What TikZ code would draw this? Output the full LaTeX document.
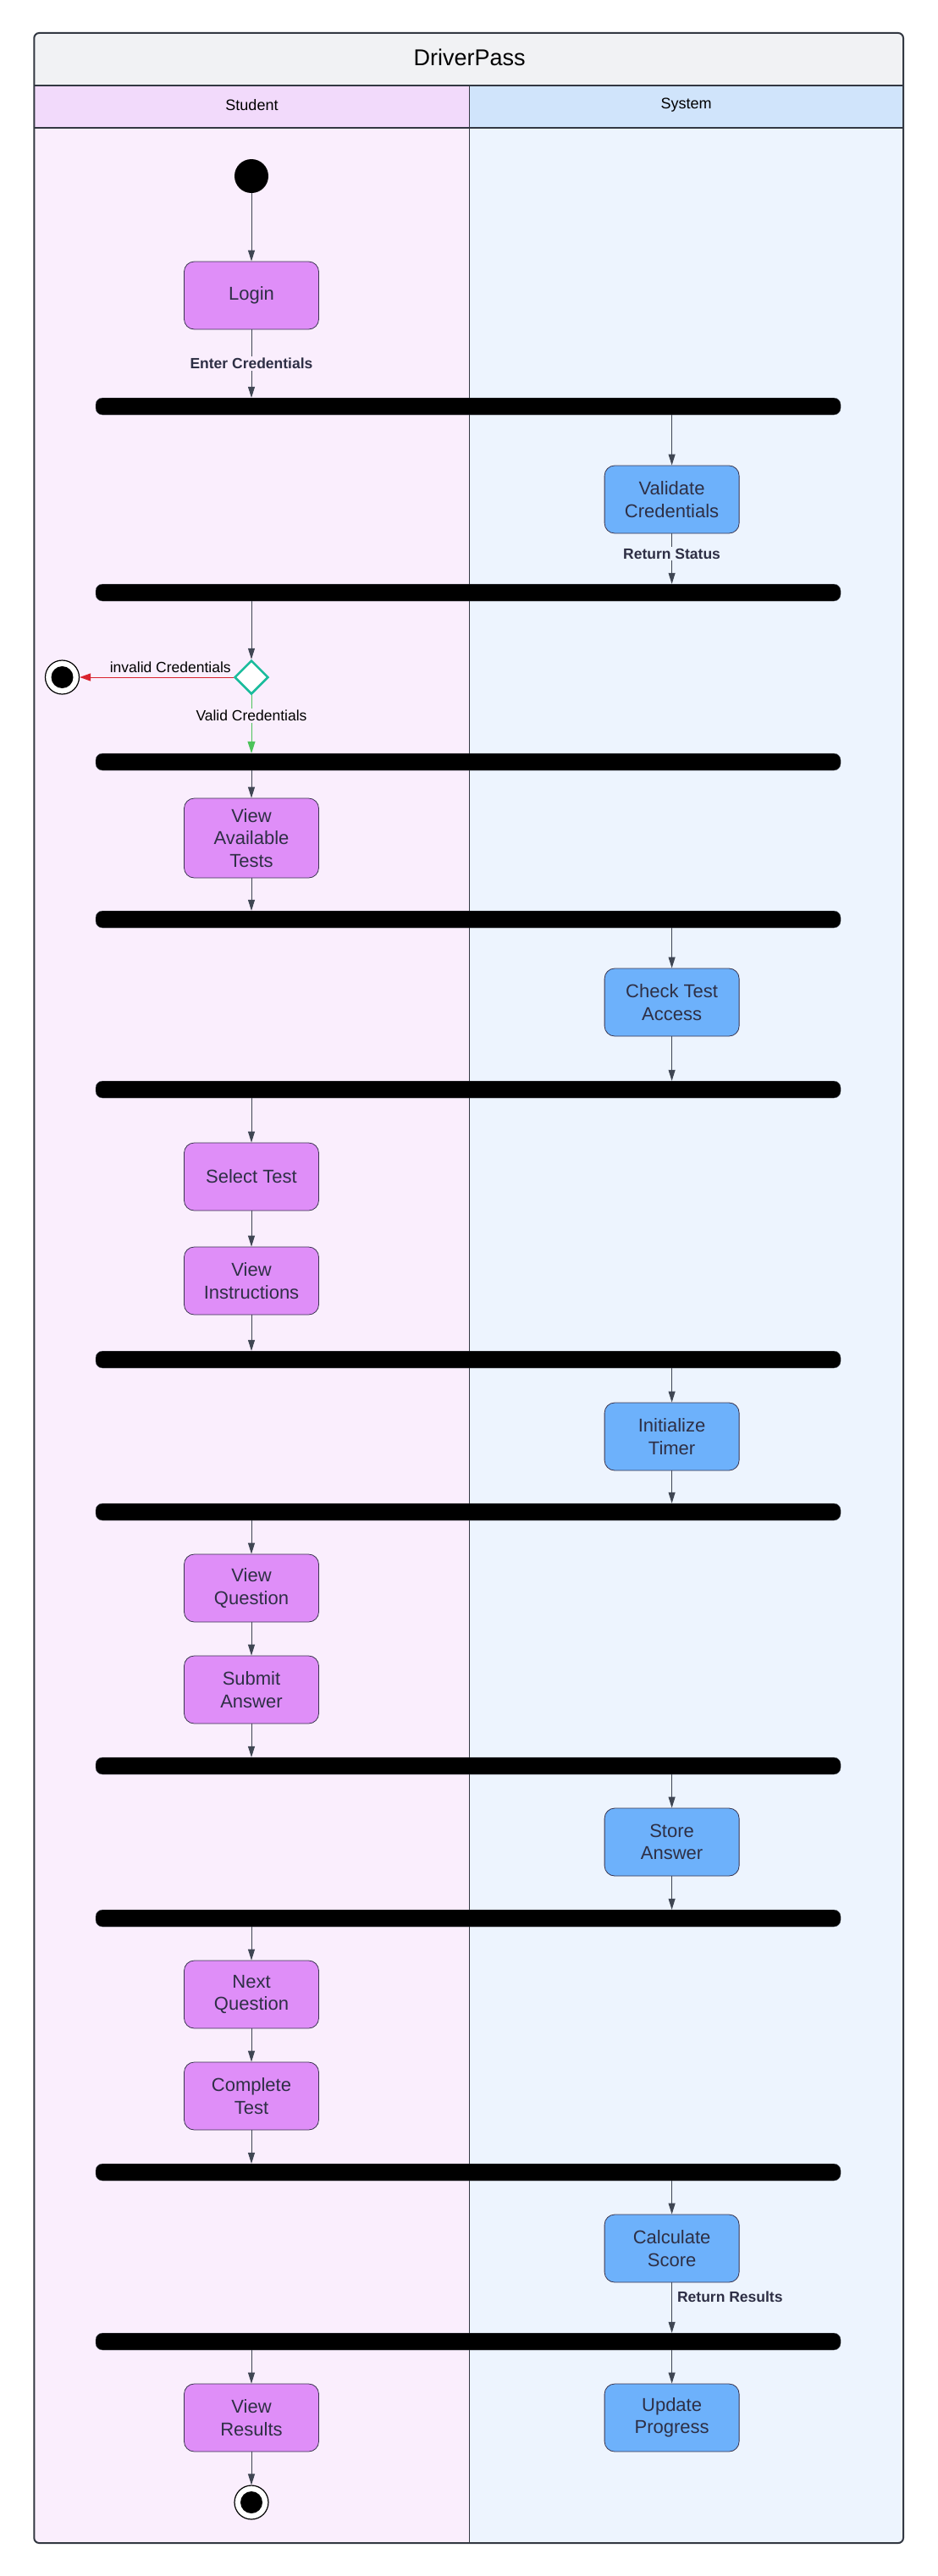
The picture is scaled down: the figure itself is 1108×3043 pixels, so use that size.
\documentclass[tikz,border=0pt]{standalone}
\usepackage{fontspec}
\setmainfont{Liberation Sans}
\usetikzlibrary{shapes.geometric,arrows.meta,positioning,calc}
\definecolor{titlegray}{HTML}{F1F2F4}
\definecolor{studhead}{HTML}{F2DAFB}
\definecolor{studbg}{HTML}{FAEEFD}
\definecolor{syshead}{HTML}{D0E4FB}
\definecolor{sysbg}{HTML}{EDF4FE}
\definecolor{studfill}{HTML}{DF8EF8}
\definecolor{sysfill}{HTML}{6DB1FB}
\definecolor{boxline}{HTML}{3A3550}
\definecolor{boxtext}{HTML}{2E2F45}
\definecolor{flowgray}{HTML}{3F4653}
\definecolor{framecol}{HTML}{333842}
\definecolor{bargray}{HTML}{5A5F6A}
\definecolor{decteal}{HTML}{1ABC9C}
\definecolor{nored}{HTML}{D9232E}
\definecolor{okgreen}{HTML}{4CC35A}

\begin{document}
\begin{tikzpicture}[x=1pt, y=-1pt,
    act/.style={rectangle, rounded corners=12pt, draw=boxline, line width=0.8pt, minimum width=159pt, minimum height=80pt, align=center, text=boxtext, font=\fontsize{22}{26.5}\selectfont},
    student/.style={act, fill=studfill},
    system/.style={act, fill=sysfill},
    forkbar/.style={rectangle, rounded corners=8pt, fill=black, draw=bargray, minimum width=880pt, minimum height=20pt, inner sep=0pt},
    lbl/.style={text=boxtext, inner sep=2pt, font=\fontsize{17.5}{20}\selectfont},
    boldlbl/.style={lbl, font=\fontsize{17.5}{20}\selectfont\bfseries},
    flow/.style={draw=flowgray, line width=1pt, -{Triangle[length=13pt,width=8pt]}},
    endnode/.style={circle, draw=black, line width=1.2pt, fill=white, minimum size=40pt, inner sep=0pt,
        path picture={\fill[black] (path picture bounding box.center) circle (13pt);}},
    >=Stealth
]
    \useasboundingbox (0,0) rectangle (1108,3043);
    \fill[white] (0,0) rectangle (1108,3043);

    % Lanes
    \begin{scope}
        \clip[rounded corners=6pt] (40.3,39) rectangle (1067,3004);
        \fill[titlegray] (40.3,39) rectangle (1067,100.7);
        \fill[studhead] (40.3,100.7) rectangle (554,150.7);
        \fill[syshead] (554,100.7) rectangle (1067,150.7);
        \fill[studbg] (40.3,150.7) rectangle (554,3004);
        \fill[sysbg] (554,150.7) rectangle (1067,3004);
    \end{scope}
    \draw[framecol, line width=1pt] (554,100.7) -- (554,3004);
    \draw[framecol, line width=2pt] (40.3,100.7) -- (1067,100.7);
    \draw[framecol, line width=2pt] (40.3,150.7) -- (1067,150.7);
    \draw[framecol, line width=2pt, rounded corners=6pt] (40.3,39) rectangle (1067,3004);

    \node[text=black, font=\fontsize{27}{30}\selectfont] (title) at (554.6,68) {DriverPass};
    \node[lbl, text=black, font=\fontsize{18}{20}\selectfont] (studlane) at (297.5,124) {Student};
    \node[lbl, text=black, font=\fontsize{18}{20}\selectfont] (syslane) at (810.6,124) {System};

    % Fork bars
    \node[forkbar] (bar1) at (553,480) {};
    \node[forkbar] (bar2) at (553,700) {};
    \node[forkbar] (bar3) at (553,900) {};
    \node[forkbar] (bar4) at (553,1086) {};
    \node[forkbar] (bar5) at (553,1287) {};
    \node[forkbar] (bar6) at (553,1606) {};
    \node[forkbar] (bar7) at (553,1786) {};
    \node[forkbar] (bar8) at (553,2086) {};
    \node[forkbar] (bar9) at (553,2266) {};
    \node[forkbar] (bar10) at (553,2566) {};
    \node[forkbar] (bar11) at (553,2766) {};

    % Start and ends
    \node[circle, fill=black, minimum size=40pt, inner sep=0pt] (start) at (297,208) {};
    \node[endnode] (end1) at (73.5,800) {};
    \node[endnode] (end2) at (297,2956) {};
    \node[diamond, draw=decteal, line width=2.5pt, fill=white, minimum size=40pt, inner sep=0pt] (dec) at (297,800) {};

    % Student actions
    \node[student] (login) at (297,349) {Login};
    \node[student, minimum height=94pt] (avail) at (297,990) {View\\Available\\Tests};
    \node[student] (select) at (297,1390) {Select Test};
    \node[student] (instr) at (297,1513) {View\\Instructions};
    \node[student] (question) at (297,1876) {View\\Question};
    \node[student] (submit) at (297,1996) {Submit\\Answer};
    \node[student] (next) at (297,2356) {Next\\Question};
    \node[student] (complete) at (297,2476) {Complete\\Test};
    \node[student] (results) at (297,2856) {View\\Results};

    % System actions
    \node[system] (val) at (793.6,590) {Validate\\Credentials};
    \node[system] (check) at (793.6,1184) {Check Test\\Access};
    \node[system] (timer) at (793.6,1697) {Initialize\\Timer};
    \node[system] (store) at (793.6,2176) {Store\\Answer};
    \node[system] (calc) at (793.6,2656) {Calculate\\Score};
    \node[system] (progress) at (793.6,2856) {Update\\Progress};

    \draw[flow] (start) -- (login);
    \draw[flow] (login) -- node[boldlbl, fill=studbg] (enter) {Enter Credentials} (bar1.north -| login);
    \draw[flow] (bar1.south -| val) -- (val);
    \draw[flow] (val) -- node[boldlbl, fill=sysbg, pos=0.4] (retstatus) {Return Status} (bar2.north -| val);
    \draw[flow] (bar2.south -| dec) -- (dec);
    \draw[draw=nored, line width=1pt, -{Triangle[length=13pt,width=9pt]}, nored] (dec) -- node[lbl, text=black, above, pos=0.41, yshift=3pt] (invalid) {invalid Credentials} (end1);
    \draw[draw=okgreen, line width=1pt, -{Triangle[length=14pt,width=9pt]}, okgreen] (dec) -- node[lbl, text=black, fill=studbg, pos=0.35] (valid) {Valid Credentials} (bar3.north -| dec);
    \draw[flow] (bar3.south -| avail) -- (avail);
    \draw[flow] (avail) -- (bar4.north -| avail);
    \draw[flow] (bar4.south -| check) -- (check);
    \draw[flow] (check) -- (bar5.north -| check);
    \draw[flow] (bar5.south -| select) -- (select);
    \draw[flow] (select) -- (instr);
    \draw[flow] (instr) -- (bar6.north -| instr);
    \draw[flow] (bar6.south -| timer) -- (timer);
    \draw[flow] (timer) -- (bar7.north -| timer);
    \draw[flow] (bar7.south -| question) -- (question);
    \draw[flow] (question) -- (submit);
    \draw[flow] (submit) -- (bar8.north -| submit);
    \draw[flow] (bar8.south -| store) -- (store);
    \draw[flow] (store) -- (bar9.north -| store);
    \draw[flow] (bar9.south -| next) -- (next);
    \draw[flow] (next) -- (complete);
    \draw[flow] (complete) -- (bar10.north -| complete);
    \draw[flow] (bar10.south -| calc) -- (calc);
    \draw[flow] (calc) -- node[boldlbl, right, pos=0.28, xshift=4pt] (retresults) {Return Results} (bar11.north -| calc);
    \draw[flow] (bar11.south -| results) -- (results);
    \draw[flow] (bar11.south -| progress) -- (progress);
    \draw[flow] (results) -- (end2);
\end{tikzpicture}
\end{document}
